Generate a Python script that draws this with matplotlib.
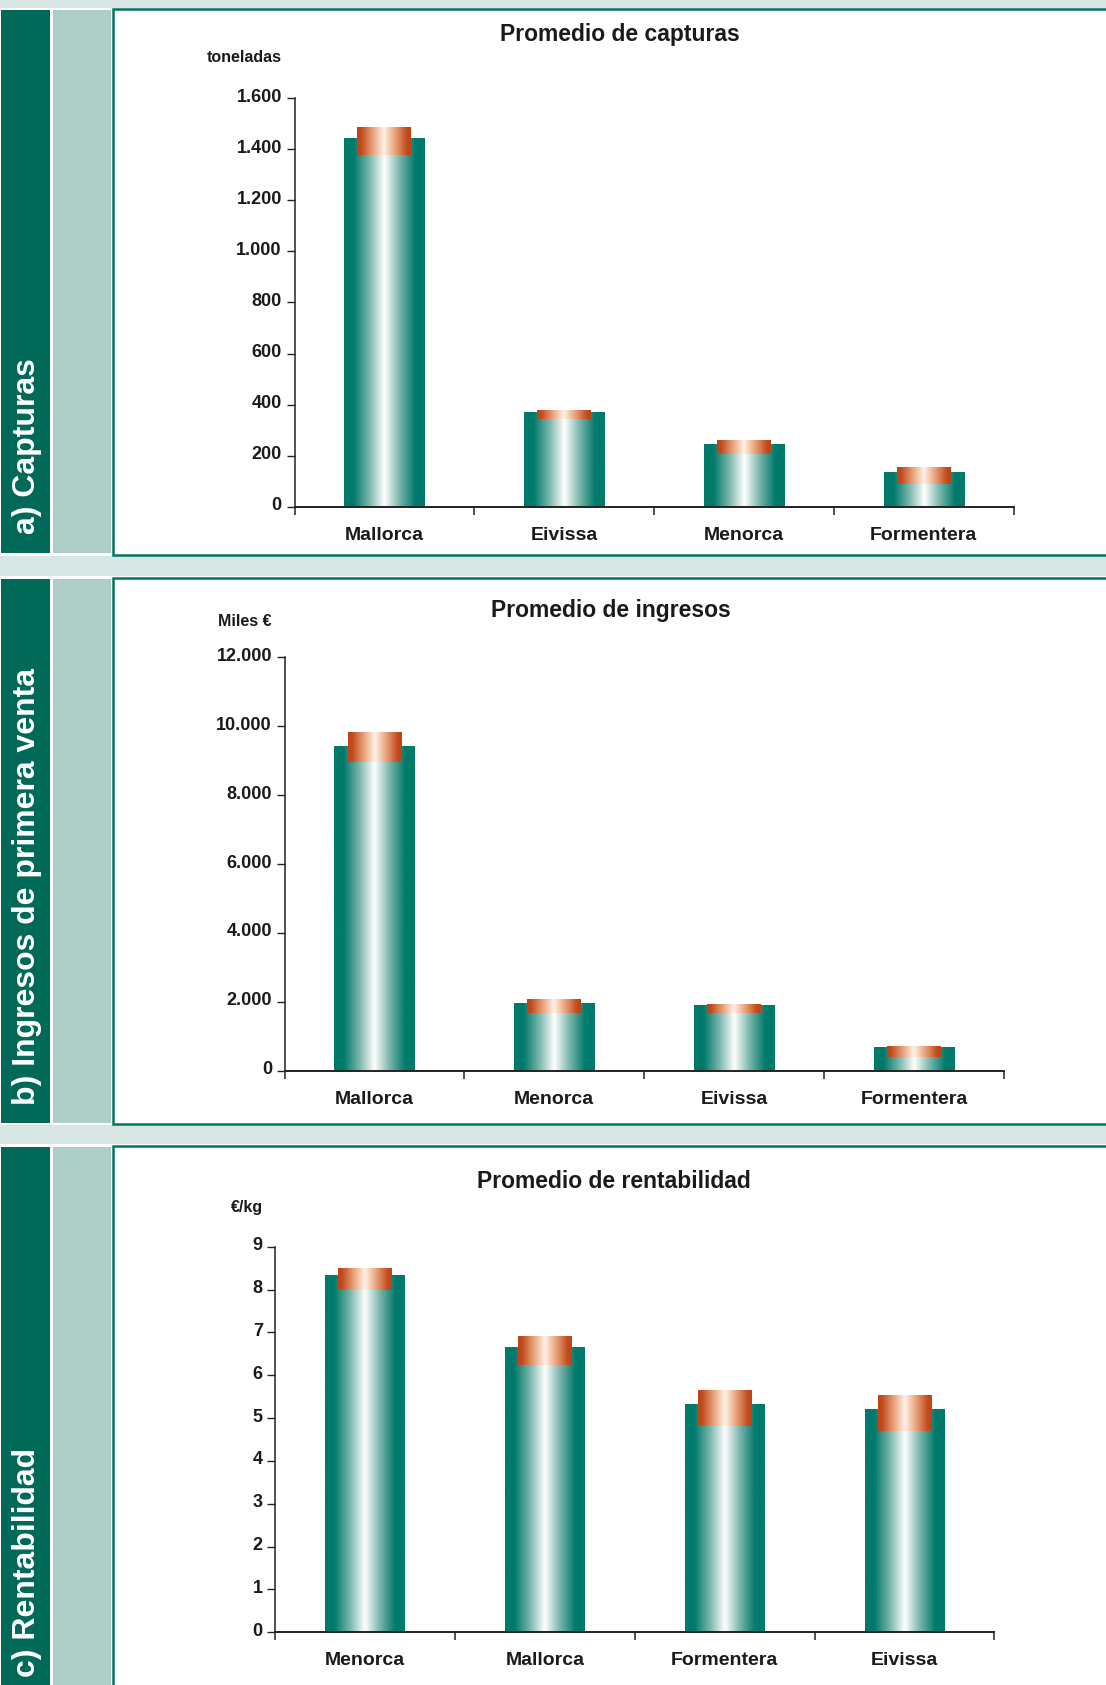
import numpy as np
import matplotlib
matplotlib.use("Agg")
import matplotlib.pyplot as plt
from matplotlib.patches import Rectangle
from matplotlib.colors import LinearSegmentedColormap
from matplotlib.transforms import ScaledTranslation

# Datos (valor medio y rango mín-máx)
islas_capturas = ["Mallorca", "Eivissa", "Menorca", "Formentera"]
capturas_media = [1445, 371, 246, 136]
capturas_min = [1378, 343, 206, 89]
capturas_max = [1484, 375, 257, 155]
capturas_ticks = [0, 200, 400, 600, 800, 1000, 1200, 1400, 1600]

islas_ingresos = ["Mallorca", "Menorca", "Eivissa", "Formentera"]
ingresos_media = [9426, 1965, 1906, 687]
ingresos_min = [8961, 1674, 1674, 397]
ingresos_max = [9803, 2052, 1935, 716]
ingresos_ticks = [0, 2000, 4000, 6000, 8000, 10000, 12000]

islas_rentab = ["Menorca", "Mallorca", "Formentera", "Eivissa"]
rentab_media = [8.31, 6.63, 5.30, 5.19]
rentab_min = [8.00, 6.24, 4.81, 4.70]
rentab_max = [8.50, 6.91, 5.65, 5.54]
rentab_ticks = [0, 1, 2, 3, 4, 5, 6, 7, 8, 9]

W, H = 1106, 1685
plt.rcParams['font.family'] = ['Liberation Sans', 'DejaVu Sans']
plt.rcParams['font.weight'] = 'bold'

VERDE_OSC = "#006958"
VERDE_CLARO = "#aecdc6"
FRANJA = "#d7e6e2"
BORDE = "#007563"
TEXTO = "#1a1a1a"

teal = "#007a6b"
cmap_verde = LinearSegmentedColormap.from_list(
    "verde", [(0, teal), (0.12, teal), (0.32, "#7fb8ae"), (0.5, "#ffffff"),
              (0.68, "#7fb8ae"), (0.88, teal), (1, teal)])
cmap_naranja = LinearSegmentedColormap.from_list(
    "naranja", [(0, "#bc4315"), (0.08, "#c24d1f"), (0.3, "#eaa57f"), (0.5, "#fff2e6"),
                (0.7, "#eaa57f"), (0.92, "#c24d1f"), (1, "#bc4315")])
grad = np.linspace(0, 1, 256).reshape(1, -1)


def fx(px):
    return px / W


def fy(py):
    return 1 - py / H


fig = plt.figure(figsize=(W / 100, H / 100), dpi=100)
fig.patch.set_facecolor("white")


def rect_px(x0, y0, x1, y1, **kw):
    r = Rectangle((fx(x0), fy(y1)), fx(x1) - fx(x0), fy(y0) - fy(y1),
                  transform=fig.transFigure, **kw)
    fig.add_artist(r)


# franjas claras entre paneles
for y0, y1 in [(0, 8), (556, 576), (1125, 1144)]:
    rect_px(0, y0, W, y1, facecolor=FRANJA, edgecolor="none", zorder=0)

paneles = [(9.5, 554.5, "a) Capturas", 534),
           (578, 1124, "b) Ingresos de primera venta", 1105),
           (1145.5, 1720, "c) Rentabilidad", 1677)]
for top, bot, etiqueta, y_txt in paneles:
    rect_px(1, top + 1, 50, bot - 1, facecolor=VERDE_OSC, edgecolor="none", zorder=0)
    rect_px(53, top + 1, 111, bot - 1, facecolor=VERDE_CLARO, edgecolor="none", zorder=0)
    rect_px(113, top, W + 20, bot, facecolor="white", edgecolor=BORDE,
            linewidth=1.8, zorder=0)
    fig.text(fx(27), fy(y_txt), etiqueta, rotation=90, ha="center", va="bottom",
             color="white", fontsize=23, fontweight="bold")


def grafico(caja, titulo, pos_titulo, unidad, y_unidad, islas, media, vmin, vmax, ticks):
    left, right, top, bot = caja
    ax = fig.add_axes([fx(left), fy(bot), fx(right) - fx(left), fy(top) - fy(bot)])
    ax.set_facecolor("none")
    x = np.arange(len(islas))
    ancho, ancho_r = 0.445, 0.30
    for xi, m, lo, hi in zip(x, media, vmin, vmax):
        ax.imshow(grad, extent=[xi - ancho / 2, xi + ancho / 2, 0, m], aspect="auto",
                  cmap=cmap_verde, interpolation="bicubic", zorder=2)
        ax.imshow(grad, extent=[xi - ancho_r / 2, xi + ancho_r / 2, lo, hi], aspect="auto",
                  cmap=cmap_naranja, interpolation="bicubic", zorder=3)
    ax.set_xlim(-0.5, len(islas) - 0.5)
    ax.set_ylim(ticks[0], ticks[-1])
    ax.set_yticks(ticks)
    ax.set_yticklabels([f"{t:,}".replace(",", ".") for t in ticks])
    ax.set_xticks(np.arange(len(islas) + 1) - 0.5)
    ax.set_xticklabels([])
    ax.set_xticks(x, minor=True)
    ax.set_xticklabels(islas, minor=True, fontsize=14, fontweight="bold", color=TEXTO)
    ax.tick_params(axis="x", which="minor", length=0, pad=14.5)
    ax.tick_params(axis="x", which="major", length=5.5, width=1.1, color="#222222")
    ax.tick_params(axis="y", length=5.5, width=1.0, pad=3.6, labelsize=13,
                   color="#222222", labelcolor=TEXTO)
    subir = ScaledTranslation(0, 3 / 100, fig.dpi_scale_trans)
    for lab in ax.get_yticklabels():
        lab.set_fontweight("bold")
        lab.set_transform(lab.get_transform() + subir)
    for s in ["top", "right"]:
        ax.spines[s].set_visible(False)
    ax.spines["left"].set_linewidth(1.1)
    ax.spines["bottom"].set_linewidth(1.4)
    ax.spines["left"].set_color("#222222")
    ax.spines["bottom"].set_color("#222222")
    fig.text(fx(pos_titulo[0]), fy(pos_titulo[1]), titulo, ha="center", va="center",
             fontsize=16.5, fontweight="bold", color=TEXTO)
    fig.text(fx(left - 12.7), fy(y_unidad), unidad, ha="right", va="center",
             fontsize=11.5, fontweight="bold", color=TEXTO)
    return ax


grafico((294.5, 1013.7, 98.3, 506.7), "Promedio de capturas", (620, 34), "toneladas", 57,
        islas_capturas, capturas_media, capturas_min, capturas_max, capturas_ticks)
grafico((284.6, 1003.8, 657.3, 1070.7), "Promedio de ingresos", (611, 610), "Miles €", 621,
        islas_ingresos, ingresos_media, ingresos_min, ingresos_max, ingresos_ticks)
grafico((275.4, 994.4, 1246.7, 1632.3), "Promedio de rentabilidad", (614, 1181), "€/kg", 1207,
        islas_rentab, rentab_media, rentab_min, rentab_max, rentab_ticks)

fig.savefig("out.png", dpi=100)
